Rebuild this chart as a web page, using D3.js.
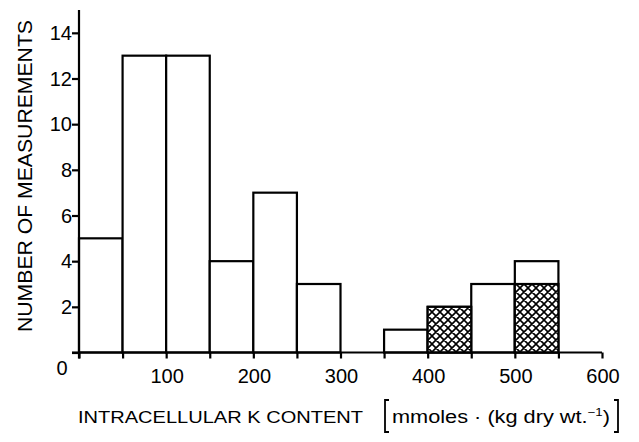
<!DOCTYPE html>
<html>
<head>
<meta charset="utf-8">
<script src="https://cdn.jsdelivr.net/npm/d3@7"></script>
<style>
  body { margin: 0; background: #fff; }
  svg { display: block; }
  text { font-family: "Liberation Sans", Arial, sans-serif; fill: #000; }
</style>
</head>
<body>
<div id="chart"></div>
<script>
// histogram bins (lower edge), width 50
const binStarts = [0, 50, 100, 150, 200, 250, 300, 350, 400, 450, 500];
const totalCounts = [5, 13, 13, 4, 7, 3, 0, 1, 2, 3, 4];
const hatchedCounts = [0, 0, 0, 0, 0, 0, 0, 0, 2, 0, 3];
const binWidth = 50;

const xTicks = [0, 50, 100, 150, 200, 250, 300, 350, 400, 450, 500, 550, 600];
const xLabels = [100, 200, 300, 400, 500, 600];
const yTicks = [0, 2, 4, 6, 8, 10, 12, 14];

const width = 639, height = 442;

const svg = d3.select("#chart").append("svg")
    .attr("width", width)
    .attr("height", height);

// cross-hatch pattern
const defs = svg.append("defs");
const pat = defs.append("pattern")
    .attr("id", "xhatch")
    .attr("patternUnits", "userSpaceOnUse")
    .attr("width", 8)
    .attr("height", 8);
pat.append("rect").attr("width", 8).attr("height", 8).attr("fill", "#fff");
pat.append("path")
    .attr("d", "M-2,2 L2,-2 M0,8 L8,0 M6,10 L10,6 M-2,6 L2,10 M0,0 L8,8 M6,-2 L10,2")
    .attr("stroke", "#000")
    .attr("stroke-width", 1.6);

const x = d3.scaleLinear().domain([0, 600]).range([79, 602]);
const y = d3.scaleLinear().domain([0, 15]).range([352.5, 10]);

// bars
const bins = binStarts.map((b, i) => ({ start: b, total: totalCounts[i], hatched: hatchedCounts[i] }));

svg.append("g").selectAll("rect")
    .data(bins.filter(d => d.total > 0))
    .enter().append("rect")
    .attr("x", d => x(d.start))
    .attr("width", d => x(d.start + binWidth) - x(d.start))
    .attr("y", d => y(d.total))
    .attr("height", d => y(0) - y(d.total))
    .attr("fill", "#fff")
    .attr("stroke", "#000")
    .attr("stroke-width", 2.2);

svg.append("g").selectAll("rect")
    .data(bins.filter(d => d.hatched > 0))
    .enter().append("rect")
    .attr("x", d => x(d.start))
    .attr("width", d => x(d.start + binWidth) - x(d.start))
    .attr("y", d => y(d.hatched))
    .attr("height", d => y(0) - y(d.hatched))
    .attr("fill", "url(#xhatch)")
    .attr("stroke", "#000")
    .attr("stroke-width", 2.2);

// x axis
const xAxis = svg.append("g")
    .attr("transform", `translate(0,${y(0)})`)
    .call(d3.axisBottom(x).tickValues(xTicks).tickSize(6).tickSizeOuter(0).tickFormat(""));
xAxis.select(".domain").attr("d", `M${x(0) - 7},0H${x(600)}`);
xAxis.selectAll("path, line").attr("stroke", "#000").attr("stroke-width", 2.2);

svg.append("g").selectAll("text")
    .data(xLabels)
    .enter().append("text")
    .attr("x", d => x(d) + 1)
    .attr("y", 383)
    .attr("text-anchor", "middle")
    .attr("font-size", 20)
    .text(d => d);

svg.append("text")
    .attr("x", 62)
    .attr("y", 375)
    .attr("text-anchor", "middle")
    .attr("font-size", 20)
    .text("0");

// y axis
const yAxis = svg.append("g")
    .attr("transform", `translate(${x(0)},0)`)
    .call(d3.axisLeft(y).tickValues(yTicks).tickSize(7).tickSizeOuter(0).tickFormat(""));
yAxis.select(".domain").attr("d", `M0,${y(0) + 6}V${y(15)}`);
yAxis.selectAll("path, line").attr("stroke", "#000").attr("stroke-width", 2.2);

svg.append("g").selectAll("text")
    .data(yTicks.filter(d => d > 0))
    .enter().append("text")
    .attr("x", 72)
    .attr("y", d => y(d) + 7)
    .attr("text-anchor", "end")
    .attr("font-size", 20)
    .text(d => d);

// axis titles
svg.append("text")
    .attr("transform", "translate(32,176) rotate(-90)")
    .attr("text-anchor", "middle")
    .attr("font-size", 21)
    .attr("textLength", 312)
    .attr("lengthAdjust", "spacingAndGlyphs")
    .text("NUMBER OF MEASUREMENTS");

svg.append("text")
    .attr("x", 78)
    .attr("y", 423)
    .attr("font-size", 17)
    .attr("textLength", 285)
    .attr("lengthAdjust", "spacingAndGlyphs")
    .text("INTRACELLULAR K CONTENT");

// units in brackets
const unit = svg.append("text")
    .attr("x", 392)
    .attr("y", 423)
    .attr("font-size", 18)
    .attr("textLength", 218)
    .attr("lengthAdjust", "spacingAndGlyphs");
unit.append("tspan").text("mmoles · (kg dry wt.");
unit.append("tspan").attr("dy", -7).attr("font-size", 11).text("−1");
unit.append("tspan").attr("dy", 7).text(")");

svg.append("path")
    .attr("d", "M389,400 H385 V432 H389 M614,400 H618 V432 H614")
    .attr("fill", "none")
    .attr("stroke", "#000")
    .attr("stroke-width", 1.8);
</script>
</body>
</html>
